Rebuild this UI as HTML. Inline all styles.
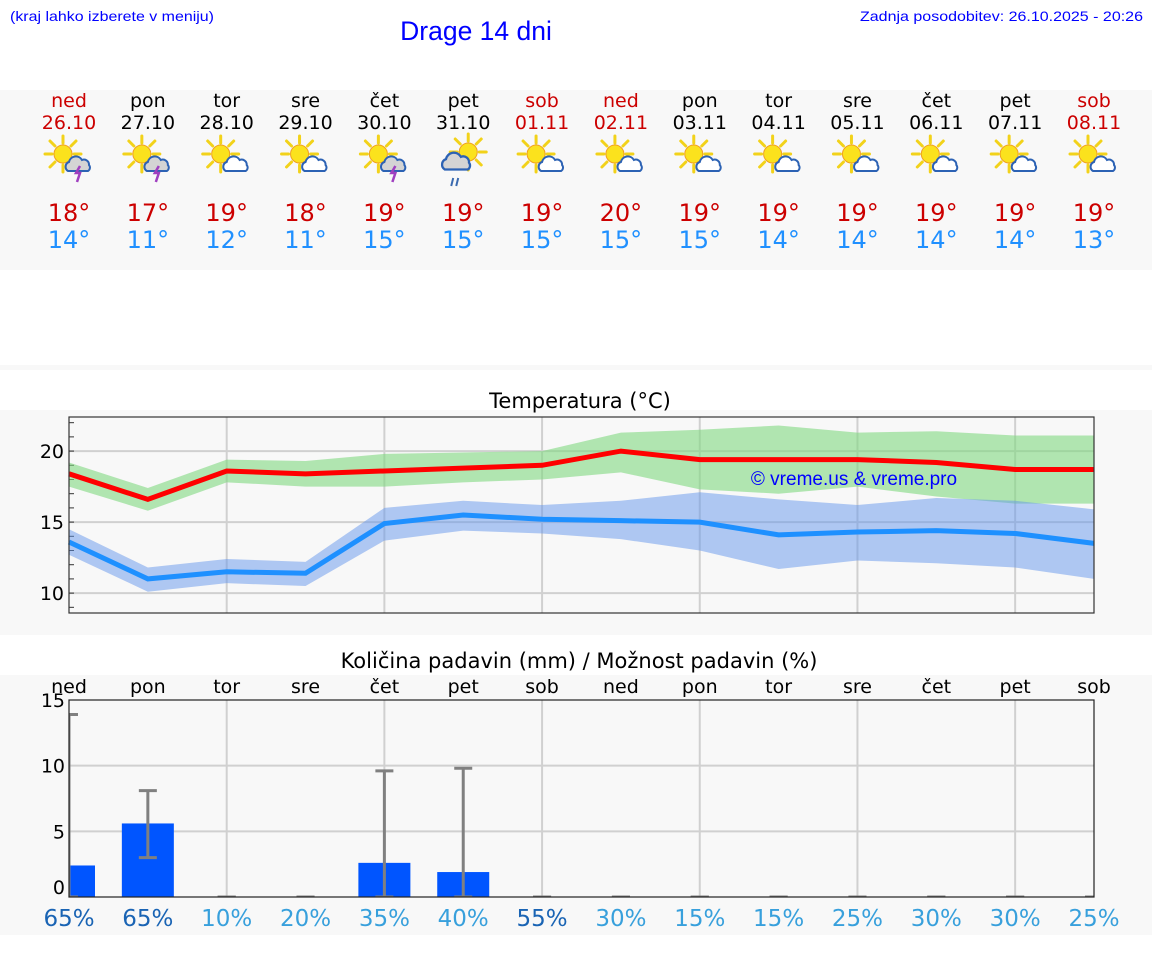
<!DOCTYPE html>
<html><head><meta charset="utf-8">
<style>
html,body{margin:0;padding:0;background:#fff;width:1152px;height:975px;overflow:hidden}
svg{display:block}
.dj{font-family:"DejaVu Sans","Liberation Sans",sans-serif}
.ls{font-family:"Liberation Sans",sans-serif}
</style></head>
<body>
<svg id="page" width="1152" height="975" viewBox="0 0 1152 975" xmlns="http://www.w3.org/2000/svg">
  <defs>
    <g id="sun">
      <g stroke="#f2d21a" stroke-width="3" stroke-linecap="round">
        <line x1="0" y1="-11" x2="0" y2="-18"/><line x1="8" y1="-8" x2="13" y2="-13"/>
        <line x1="11" y1="0" x2="18" y2="0"/><line x1="8" y1="8" x2="13" y2="13"/>
        <line x1="0" y1="11" x2="0" y2="18"/><line x1="-8" y1="8" x2="-13" y2="13"/>
        <line x1="-11" y1="0" x2="-18" y2="0"/><line x1="-8" y1="-8" x2="-13" y2="-13"/>
      </g>
      <circle r="9" fill="#fbe21d" stroke="#f0a020" stroke-width="1"/>
    </g>
    <path id="cloud" d="M-10,6 a5,5 0 0 1 1,-9 a7,7 0 0 1 13,-2 a5,5 0 0 1 7,5 a4,4 0 0 1 -1,6 z" stroke="#2c62b4" stroke-width="2"/>
  </defs>

  <text x="10" y="21" class="ls" font-size="14" fill="#0000ff" textLength="204" lengthAdjust="spacingAndGlyphs">(kraj lahko izberete v meniju)</text>
  <text x="476" y="40" class="ls" font-size="26.5" fill="#0000ff" text-anchor="middle">Drage 14 dni</text>
  <text x="1143" y="21" class="ls" font-size="14" fill="#0000ff" text-anchor="end" textLength="283" lengthAdjust="spacingAndGlyphs">Zadnja posodobitev: 26.10.2025 - 20:26</text>

  <rect x="0" y="90" width="1152" height="180" fill="#f8f8f8"/>
  <rect x="0" y="365" width="1152" height="5" fill="#f8f8f8"/>
  <rect x="0" y="410" width="1152" height="225" fill="#f8f8f8"/>
  <rect x="0" y="675" width="1152" height="260" fill="#f8f8f8"/>

  <g id="daily"></g>

  <text x="580" y="408" class="dj" font-size="21" text-anchor="middle" fill="#000">Temperatura (°C)</text>
  <g id="tchart"></g>

  <text x="579" y="668" class="dj" font-size="21" text-anchor="middle" fill="#000">Količina padavin (mm) / Možnost padavin (%)</text>
  <g id="pchart"></g>
</svg>
<script>
const days = ["ned","pon","tor","sre","čet","pet","sob","ned","pon","tor","sre","čet","pet","sob"];
const dates = ["26.10","27.10","28.10","29.10","30.10","31.10","01.11","02.11","03.11","04.11","05.11","06.11","07.11","08.11"];
const icons = ["storm","storm","cloud","cloud","storm","rain","cloud","cloud","cloud","cloud","cloud","cloud","cloud","cloud"];
const maxTemps = [18,17,19,18,19,19,19,20,19,19,19,19,19,19];
const minTemps = [14,11,12,11,15,15,15,15,15,14,14,14,14,13];

const maxLine = [18.4,16.6,18.6,18.4,18.6,18.8,19.0,20.0,19.4,19.4,19.4,19.2,18.7,18.7];
const maxBandHi = [19.2,17.4,19.4,19.3,19.8,19.9,20.0,21.3,21.5,21.8,21.3,21.4,21.1,21.1];
const maxBandLo = [17.5,15.8,17.8,17.5,17.5,17.8,18.0,18.5,17.3,17.0,17.5,16.8,16.3,16.3];
const minLine = [13.6,11.0,11.5,11.4,14.9,15.5,15.2,15.1,15.0,14.1,14.3,14.4,14.2,13.5];
const minBandHi = [14.5,11.8,12.4,12.2,16.0,16.5,16.2,16.5,17.1,16.6,16.2,16.7,16.5,15.9];
const minBandLo = [12.7,10.1,10.7,10.5,13.7,14.4,14.2,13.8,13.0,11.7,12.3,12.1,11.8,11.0];
const tempTicks = [10,15,20];

const precip = [2.4,5.6,0,0,2.6,1.9,0,0,0,0,0,0,0,0];
const precipLo = [0,3.0,0,0,0,0,0,0,0,0,0,0,0,0];
const precipHi = [13.9,8.1,0,0,9.6,9.8,0,0,0,0,0,0,0,0];
const chance = [65,65,10,20,35,40,55,30,15,15,25,30,30,25];
const precipTicks = [0,5,10,15];

const NS = "http://www.w3.org/2000/svg";
function mk(tag, attrs, parent){const e=document.createElementNS(NS,tag);for(const k in attrs)e.setAttribute(k,attrs[k]);parent.appendChild(e);return e;}
const X0=69, X1=1094, N=days.length;
const xAt = i => X0 + i*(X1-X0)/(N-1);

const daily=document.getElementById('daily');
days.forEach((d,i)=>{
  const x=xAt(i), red=(d==="ned"||d==="sob");
  const g=mk('g',{},daily);
  
  
  let t=mk('text',{x:x,y:107,'text-anchor':'middle','font-size':19,'class':'dj',fill:red?'#cc0000':'#000'},g);t.textContent=d;
  
  
  t=mk('text',{x:x,y:129,'text-anchor':'middle','font-size':19,'class':'dj',fill:red?'#cc0000':'#000'},g);t.textContent=dates[i];
  
  
  const ic=mk('g',{transform:`translate(${x},158)`},g);
  
  
  if(icons[i]==="rain"){
    mk('use',{href:'#sun',x:5,y:-6},ic);
    mk('use',{href:'#cloud',x:-6,y:4,fill:'#d4d4d4',transform:'scale(1.15)'},ic);
    mk('line',{x1:-10,y1:20,x2:-12,y2:28,stroke:'#3a6ab0','stroke-width':2},ic);
    mk('line',{x1:-5,y1:20,x2:-7,y2:28,stroke:'#3a6ab0','stroke-width':2},ic);
  } else {
    mk('use',{href:'#sun',x:-6,y:-4},ic);
    mk('use',{href:'#cloud',x:9,y:7,fill:icons[i]==="storm"?'#d4d4d4':'#fff'},ic);
    if(icons[i]==="storm") mk('path',{d:'M11,8 l-4,7 h4 l-3,9',stroke:'#a040c0','stroke-width':2.5,fill:'none'},ic);
  }
  t=mk('text',{x:x,y:221,'text-anchor':'middle','font-size':24,'class':'dj',fill:'#cc0000'},g);t.textContent=maxTemps[i]+'°';
  
  
  t=mk('text',{x:x,y:248,'text-anchor':'middle','font-size':24,'class':'dj',fill:'#2090ff'},g);t.textContent=minTemps[i]+'°';
  
  
});

const tc=document.getElementById('tchart');
const TY0=417, TY1=613, TMIN=8.6, TMAX=22.4;
const yT = v => TY1 - (v-TMIN)/(TMAX-TMIN)*(TY1-TY0);
mk('rect',{x:X0,y:TY0,width:X1-X0,height:TY1-TY0,fill:'#f8f8f8'},tc);
tempTicks.forEach(v=>{
  const l=mk('line',{x1:X0,x2:X1,y1:yT(v),y2:yT(v),stroke:'#d0d0d0','stroke-width':2},tc);
  
  
  const t=mk('text',{x:X0-5,y:yT(v)+7,'text-anchor':'end','font-size':19,'class':'dj',fill:'#000'},tc);t.textContent=v;
  
  
});
for(let v=Math.ceil(TMIN);v<=TMAX;v++) mk('line',{x1:X0,x2:X0+5,y1:yT(v),y2:yT(v),stroke:'#333','stroke-width':1},tc);
for(let i=2;i<N;i+=2){
  const l=mk('line',{x1:xAt(i),x2:xAt(i),y1:TY0,y2:TY1,stroke:'#d0d0d0','stroke-width':2},tc);
  
  
}
function band(hi,lo,fill,name){
  let d='M'+hi.map((v,i)=>xAt(i)+','+yT(v)).join(' L');
  d+=' L'+lo.map((v,i)=>xAt(i)+','+yT(v)).reverse().join(' L')+' Z';
  const p=mk('path',{d:d,fill:fill},tc);
  
  
}
function line(arr,col,name){
  const p=mk('polyline',{points:arr.map((v,i)=>xAt(i)+','+yT(v)).join(' '),fill:'none',stroke:col,'stroke-width':5,'stroke-linejoin':'miter'},tc);
  
  
}
band(maxBandHi,maxBandLo,'rgba(128,216,128,0.6)','max-temp-range');
band(minBandHi,minBandLo,'rgba(100,150,235,0.5)','min-temp-range');
line(maxLine,'#ff0000','max-temp-line');
line(minLine,'#1e90ff','min-temp-line');
let wm=mk('text',{x:854,y:485,'text-anchor':'middle','font-size':19,'class':'ls',fill:'#0000ff'},tc);wm.textContent='© vreme.us & vreme.pro';


mk('rect',{x:X0,y:TY0,width:X1-X0,height:TY1-TY0,fill:'none',stroke:'#333','stroke-width':1.2},tc);

const pc=document.getElementById('pchart');
const PY0=700, PY1=897, PMAX=15;
const yP = v => PY1 - v/PMAX*(PY1-PY0);
mk('rect',{x:X0,y:PY0,width:X1-X0,height:PY1-PY0,fill:'#f8f8f8'},pc);
precipTicks.forEach(v=>{
  if(v>0&&v<PMAX){const l=mk('line',{x1:X0,x2:X1,y1:yP(v),y2:yP(v),stroke:'#d0d0d0','stroke-width':2},pc);
  
  }
  const t=mk('text',{x:X0-4,y:yP(v)+(v===0?-3:7),'text-anchor':'end','font-size':19,'class':'dj',fill:'#000'},pc);t.textContent=v;
  
  
});
for(let i=2;i<N;i+=2){
  const l=mk('line',{x1:xAt(i),x2:xAt(i),y1:PY0,y2:PY1,stroke:'#d0d0d0','stroke-width':2},pc);
  
  
}
const clip=mk('clipPath',{id:'pclip'},pc);mk('rect',{x:X0,y:PY0,width:X1-X0,height:PY1-PY0},clip);
const bars=mk('g',{'clip-path':'url(#pclip)'},pc);
const BW=52;
precip.forEach((v,i)=>{
  const x=xAt(i);
  if(v>0){const b=mk('rect',{x:x-BW/2,y:yP(v),width:BW,height:PY1-yP(v),fill:'#0055ff'},bars);
  
  }
  const e=mk('g',{stroke:'#808080','stroke-width':3},bars);
  
  
  if(precipHi[i]>precipLo[i]) mk('line',{x1:x,x2:x,y1:yP(precipLo[i]),y2:yP(precipHi[i])},e);
  mk('line',{x1:x-9,x2:x+9,y1:yP(precipHi[i]),y2:yP(precipHi[i])},e);
  mk('line',{x1:x-9,x2:x+9,y1:yP(precipLo[i]),y2:yP(precipLo[i])},e);
});
mk('rect',{x:X0,y:PY0,width:X1-X0,height:PY1-PY0,fill:'none',stroke:'#222','stroke-width':1.2},pc);
days.forEach((d,i)=>{
  let t=mk('text',{x:xAt(i),y:693,'text-anchor':'middle','font-size':19,'class':'dj',fill:'#000'},pc);t.textContent=d;
  
  
  t=mk('text',{x:xAt(i),y:926,'text-anchor':'middle','font-size':23,'class':'dj',fill:chance[i]>=50?'#1a64b4':'#38a0dc'},pc);t.textContent=chance[i]+'%';
  
  
});
</script>
</body></html>
